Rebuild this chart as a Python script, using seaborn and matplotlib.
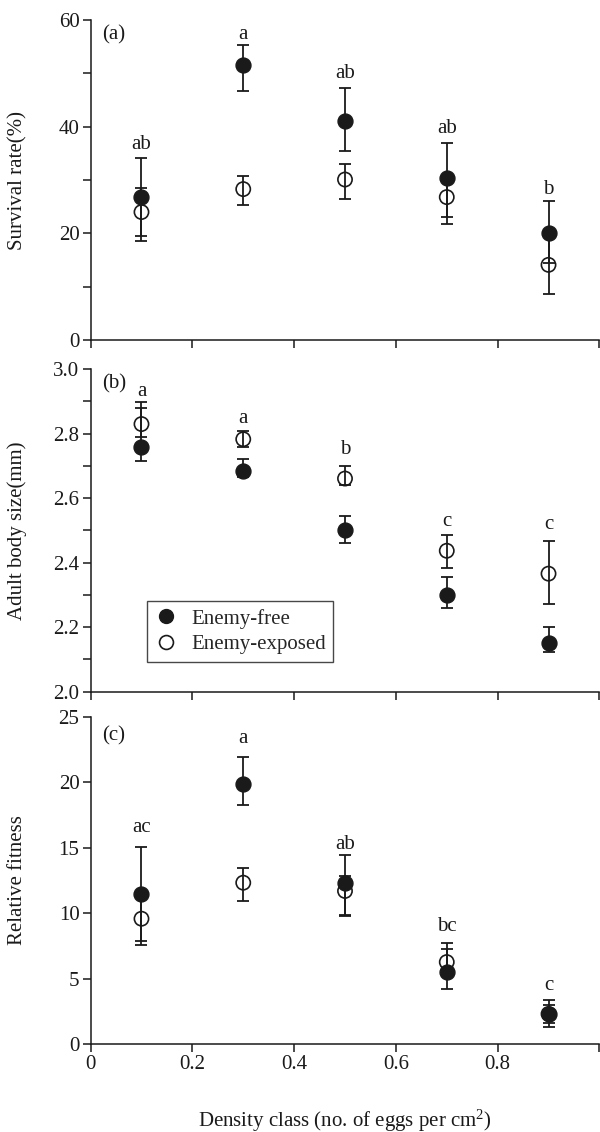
import numpy as np
import pandas as pd
import matplotlib
matplotlib.use("Agg")
import matplotlib.pyplot as plt
from matplotlib.lines import Line2D
import seaborn as sns

# ---------------- data ----------------
density = [0.1, 0.3, 0.5, 0.7, 0.9]

# (a) survival rate (%)
surv_free = [26.8, 51.6, 41.1, 30.4, 20.1]
surv_free_lo = [19.6, 46.7, 35.4, 23.0, 14.5]
surv_free_hi = [34.1, 55.3, 47.2, 36.9, 26.1]
surv_exp = [24.0, 28.3, 30.1, 26.8, 14.1]
surv_exp_lo = [18.6, 25.4, 26.5, 21.8, 8.6]
surv_exp_hi = [28.5, 30.8, 33.0, 30.5, 19.5]
surv_letters = ["ab", "a", "ab", "ab", "b"]
surv_letter_y = [36.7, 57.3, 49.9, 39.6, 28.2]

# (b) adult body size (mm)
size_free = [2.758, 2.683, 2.500, 2.301, 2.150]
size_free_lo = [2.714, 2.665, 2.461, 2.260, 2.124]
size_free_hi = [2.879, 2.721, 2.546, 2.356, 2.202]
size_exp = [2.830, 2.783, 2.661, 2.437, 2.366]
size_exp_lo = [2.790, 2.760, 2.640, 2.382, 2.272]
size_exp_hi = [2.897, 2.807, 2.700, 2.486, 2.466]
size_letters = ["a", "a", "b", "c", "c"]
size_letter_y = [2.931, 2.846, 2.750, 2.527, 2.517]

# (c) relative fitness
fit_free = [11.47, 19.88, 12.27, 5.50, 2.29]
fit_free_lo = [7.89, 18.25, 9.83, 4.20, 1.32]
fit_free_hi = [15.07, 21.94, 14.43, 7.23, 3.36]
fit_exp = [9.57, 12.32, 11.69, 6.26, 2.30]
fit_exp_lo = [7.54, 10.95, 9.75, 5.20, 1.60]
fit_exp_hi = [11.60, 13.47, 12.80, 7.69, 3.00]
fit_letters = ["ac", "a", "ab", "bc", "c"]
fit_letter_y = [16.55, 23.3, 15.2, 8.96, 4.5]

panel_tags = ["(a)", "(b)", "(c)"]
ylabels = ["Survival rate(%)", "Adult body size(mm)", "Relative fitness"]
series_names = ["Enemy-free", "Enemy-exposed"]
xlabel = "Density class (no. of eggs per cm$^2$)"
xticks = [0, 0.2, 0.4, 0.6, 0.8, 1.0]
xticklabels = ["0", "0.2", "0.4", "0.6", "0.8", ""]

# ---------------- style ----------------
sns.set_theme(style="ticks")
plt.rcParams["font.family"] = ["Liberation Serif", "DejaVu Serif"]
plt.rcParams["mathtext.fontset"] = "custom"
plt.rcParams["mathtext.rm"] = "Liberation Serif"
plt.rcParams["mathtext.it"] = "Liberation Serif:italic"
FS = 15
INK = "#1a1a1a"

fig = plt.figure(figsize=(6, 11.32), dpi=100)
L, W = 0.151, 0.848
ax_a = fig.add_axes([L, 0.6996, W, 0.2827])
ax_b = fig.add_axes([L, 0.3890, W, 0.2848])
ax_c = fig.add_axes([L, 0.0777, W, 0.2892])

panels = [
    (ax_a, surv_free, surv_free_lo, surv_free_hi, surv_exp, surv_exp_lo, surv_exp_hi,
     surv_letters, surv_letter_y, (0, 60), np.arange(0, 61, 10), [0, 20, 40, 60], "{:.0f}"),
    (ax_b, size_free, size_free_lo, size_free_hi, size_exp, size_exp_lo, size_exp_hi,
     size_letters, size_letter_y, (2.0, 3.0), np.round(np.arange(2.0, 3.01, 0.1), 1),
     [2.0, 2.2, 2.4, 2.6, 2.8, 3.0], "{:.1f}"),
    (ax_c, fit_free, fit_free_lo, fit_free_hi, fit_exp, fit_exp_lo, fit_exp_hi,
     fit_letters, fit_letter_y, (0, 25), np.arange(0, 26, 5), [0, 5, 10, 15, 20, 25], "{:.0f}"),
]

for i, (ax, fr, frlo, frhi, ex, exlo, exhi, lets, lety, ylim, yt, ytl, fmt) in enumerate(panels):
    x = np.array(density)
    fr, ex = np.array(fr), np.array(ex)
    # error bars
    ax.errorbar(x, ex, yerr=[ex - np.array(exlo), np.array(exhi) - ex], fmt="none",
                ecolor=INK, elinewidth=1.3, capsize=4.5, capthick=1.3, zorder=2)
    ax.errorbar(x, fr, yerr=[fr - np.array(frlo), np.array(frhi) - fr], fmt="none",
                ecolor=INK, elinewidth=1.3, capsize=4.5, capthick=1.3, zorder=2)
    # points (open first, filled on top)
    df_e = pd.DataFrame({"x": x, "y": ex})
    sns.scatterplot(data=df_e, x="x", y="y", ax=ax, marker="o", s=105,
                    color="white", edgecolor=INK, linewidth=1.2, zorder=3, legend=False)
    ax.collections[-1].set_facecolor("none")
    df_f = pd.DataFrame({"x": x, "y": fr})
    sns.scatterplot(data=df_f, x="x", y="y", ax=ax, marker="o", s=115,
                    color=INK, edgecolor=INK, linewidth=1.0, zorder=4, legend=False)
    # significance letters
    for xi, t, yi in zip(x, lets, lety):
        ax.text(xi, yi, t, ha="center", va="center", fontsize=FS, color=INK)
    # axes cosmetics
    ax.set_xlim(0, 1.0)
    ax.set_ylim(*ylim)
    ax.set_yticks(yt)
    ax.set_yticklabels([fmt.format(v) if np.any(np.isclose(v, ytl)) else "" for v in yt])
    ax.set_xticks(xticks)
    if i == 2:
        ax.set_xticklabels(xticklabels)
        ax.set_xlabel(xlabel, fontsize=FS, color=INK, labelpad=24)
    else:
        ax.set_xticklabels([])
        ax.set_xlabel("")
    ax.set_ylabel(ylabels[i], fontsize=FS, color=INK)
    ax.yaxis.set_label_coords(-0.125, 0.5)
    sns.despine(ax=ax)
    for s in ["left", "bottom"]:
        ax.spines[s].set_linewidth(1.1)
        ax.spines[s].set_color(INK)
    ax.tick_params(axis="both", direction="out", length=6, width=1.1, colors=INK,
                   labelsize=FS, pad=2)
    ax.text(0.022, 0.955 if i < 2 else 0.94, panel_tags[i], transform=ax.transAxes,
            ha="left", va="center", fontsize=FS, color=INK)
    ax.set_facecolor("white")

handles = [
    Line2D([], [], marker="o", linestyle="none", markersize=10, markerfacecolor=INK,
           markeredgecolor=INK),
    Line2D([], [], marker="o", linestyle="none", markersize=10, markerfacecolor="none",
           markeredgecolor=INK, markeredgewidth=1.2),
]
leg = ax_b.legend(handles, series_names, loc="upper left", bbox_to_anchor=(0.11, 0.28),
                  fontsize=FS, frameon=True, fancybox=False, handletextpad=0.6,
                  borderpad=0.35, labelspacing=0.3, handlelength=1.2, borderaxespad=0)
leg.get_frame().set_edgecolor(INK)
leg.get_frame().set_linewidth(1.0)

fig.savefig("out.png", dpi=100, facecolor="white")
